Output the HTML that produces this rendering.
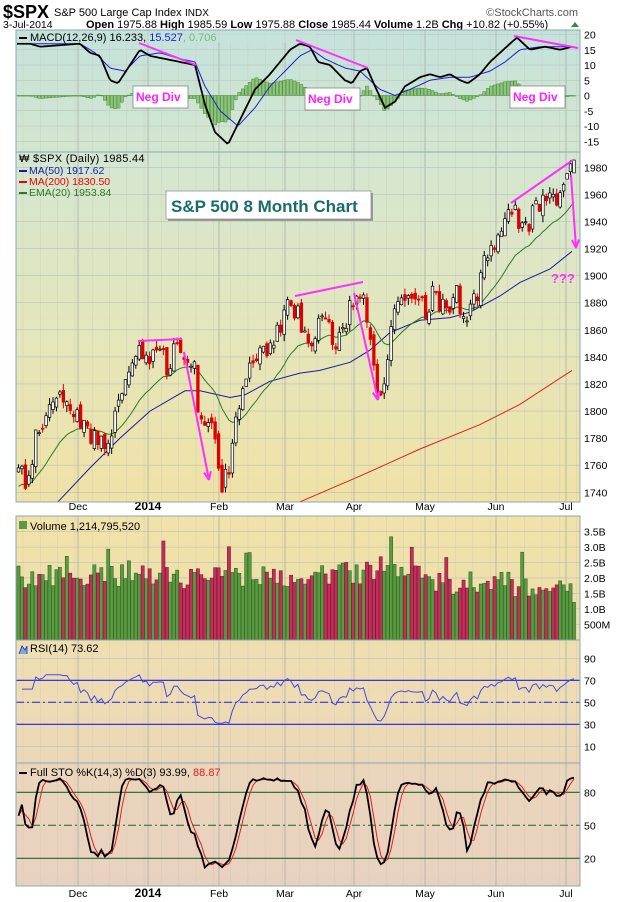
<!DOCTYPE html>
<html><head><meta charset="utf-8"><style>
html,body{margin:0;padding:0;background:#fff;width:620px;height:902px;overflow:hidden}
svg{display:block}
text{font-family:"Liberation Sans",sans-serif}
</style></head><body>
<svg id="s" width="620" height="902" xmlns="http://www.w3.org/2000/svg">
<defs>
<linearGradient id="gM" x1="0" y1="0" x2="0" y2="1"><stop offset="0" stop-color="#c4e2dc"/><stop offset="1" stop-color="#d4e6cf"/></linearGradient>
<linearGradient id="gP" x1="0" y1="0" x2="0" y2="1"><stop offset="0" stop-color="#d3e7d2"/><stop offset="0.5" stop-color="#e4e6bc"/><stop offset="1" stop-color="#f0e2a6"/></linearGradient>
<linearGradient id="gV" x1="0" y1="0" x2="0" y2="1"><stop offset="0" stop-color="#f0e2a8"/><stop offset="1" stop-color="#eedfac"/></linearGradient>
<linearGradient id="gR" x1="0" y1="0" x2="0" y2="1"><stop offset="0" stop-color="#eedfb0"/><stop offset="1" stop-color="#ecd8b8"/></linearGradient>
<linearGradient id="gS" x1="0" y1="0" x2="0" y2="1"><stop offset="0" stop-color="#ebd6bb"/><stop offset="1" stop-color="#e9d1c0"/></linearGradient>
<clipPath id="cM"><rect x="16" y="30" width="564" height="122"/></clipPath>
<clipPath id="cP"><rect x="16" y="152" width="564" height="350"/></clipPath>
<clipPath id="cS"><rect x="16" y="763" width="564" height="123"/></clipPath>
</defs>
<text x="3" y="18" font-size="18" font-weight="bold">$SPX</text>
<text x="54" y="16" font-size="11">S&amp;P 500 Large Cap Index</text>
<text x="185" y="16" font-size="10">INDX</text>
<text x="578" y="16" font-size="11" fill="#555" text-anchor="end">©StockCharts.com</text>
<text x="3" y="28" font-size="10.5">3-Jul-2014</text>
<text x="86" y="28" font-size="11"><tspan font-weight="bold">Open</tspan> 1975.88 <tspan font-weight="bold">High</tspan> 1985.59 <tspan font-weight="bold">Low</tspan> 1975.88 <tspan font-weight="bold">Close</tspan> 1985.44 <tspan font-weight="bold">Volume</tspan> 1.2B <tspan font-weight="bold">Chg</tspan> +10.82 (+0.55%)</text>
<polygon points="571,27 575,22 579,27" fill="#3a8a3a"/>
<g id="g"></g>
</svg>
<script>
var NS="http://www.w3.org/2000/svg",G=document.getElementById("g");
function el(t,a,p){var e=document.createElementNS(NS,t);for(var k in a)e.setAttribute(k,a[k]);(p||G).appendChild(e);return e;}
function tx(x,y,s,a){var e=el("text",Object.assign({x:x,y:y,"font-size":11},a||{}));e.textContent=s;return e;}
var s=12345;function rnd(){s^=s<<13;s^=s>>>17;s^=s<<5;return ((s>>>0)%100000)/100000;}
function interp(k,x){if(x<=k[0][0])return k[0][1];for(var i=1;i<k.length;i++){if(x<=k[i][0]){var a=k[i-1],b=k[i];return a[1]+(b[1]-a[1])*(x-a[0])/(b[0]-a[0]);}}return k[k.length-1][1];}
var L=16,R=580;
el("rect",{x:L,y:30,width:R-L,height:122,fill:"url(#gM)"});
el("rect",{x:L,y:152,width:R-L,height:350,fill:"url(#gP)"});
el("rect",{x:L,y:516,width:R-L,height:124,fill:"url(#gV)"});
el("rect",{x:L,y:640,width:R-L,height:123,fill:"url(#gR)"});
el("rect",{x:L,y:763,width:R-L,height:123,fill:"url(#gS)"});
var N=162,dx=3.45;function X(i){return 18.5+i*dx;}
var months=[[78,"Dec"],[148,"2014"],[219,"Feb"],[285,"Mar"],[354,"Apr"],[425,"May"],[496,"Jun"],[566,"Jul"]];
var panels=[[30,152],[152,502],[516,640],[640,763],[763,886]];
panels.forEach(function(p){
 for(var x=23;x<R;x+=17.3)el("line",{x1:x,y1:p[0],x2:x,y2:p[1],stroke:"#c8c8b8","stroke-width":0.6,opacity:0.6});
 months.forEach(function(m){el("line",{x1:m[0],y1:p[0],x2:m[0],y2:p[1],stroke:"#a8b0a8","stroke-width":0.8});});
});
function hgrid(y,lab){el("line",{x1:L,y1:y,x2:R,y2:y,stroke:"#b8c0b8","stroke-width":0.6});tx(584,y+4,lab,{"font-size":10.5});}
for(var v=20;v>=-15;v-=5)hgrid(95.5-v*3.05,""+v);
for(var p=1740;p<=1980;p+=20)hgrid(492.3-(p-1740)*1.354,""+p);
[["3.5B",3.5],["3.0B",3],["2.5B",2.5],["2.0B",2],["1.5B",1.5],["1.0B",1],["500M",0.5]].forEach(function(a){hgrid(639.7-a[1]*30.86,a[0]);});
[90,70,50,30,10].forEach(function(v){hgrid(746.3-(v-10)*1.1,""+v);});
[80,50,20].forEach(function(v){tx(584,858.3-(v-20)*1.1+4,""+v,{"font-size":10.5});});
months.forEach(function(m){tx(m[0],510,m[1],{"text-anchor":"middle","font-size":m[1]=="2014"?12:10.5,"font-weight":m[1]=="2014"?"bold":"normal"});tx(m[0],897,m[1],{"text-anchor":"middle","font-size":m[1]=="2014"?12:10.5,"font-weight":m[1]=="2014"?"bold":"normal"});});
var K=[[17,1765],[25,1748],[40,1790],[50,1805],[60,1810],[70,1800],[85,1790],[100,1775],[110,1782],[120,1810],[130,1840],[140,1846],[150,1835],[160,1842],[170,1830],[175,1848],[185,1845],[195,1828],[200,1792],[210,1795],[215,1785],[222,1745],[228,1752],[233,1780],[238,1800],[245,1822],[255,1840],[265,1845],[280,1858],[290,1880],[300,1868],[310,1850],[320,1865],[330,1858],[340,1850],[348,1870],[355,1886],[362,1888],[368,1860],[375,1822],[382,1817],[388,1845],[395,1870],[405,1880],[415,1880],[425,1875],[432,1885],[440,1880],[450,1875],[455,1895],[462,1872],[470,1875],[478,1885],[485,1910],[492,1920],[500,1925],[508,1945],[515,1952],[520,1935],[527,1932],[535,1950],[545,1960],[550,1955],[555,1952],[560,1960],[566,1975],[572,1985]];
var C=[],O=[],H=[],Lo=[];
for(var i=0;i<N;i++){var c=interp(K,X(i))+(rnd()-0.5)*16;C.push(c);var o=i?C[i-1]+(rnd()-0.5)*8:c-3;O.push(o);H.push(Math.max(o,c)+rnd()*5);Lo.push(Math.min(o,c)-rnd()*5);}
C[N-1]=1985.4;O[N-1]=1975.9;H[N-1]=1985.6;Lo[N-1]=1975.9;
function PY(p){return 492.3-(p-1740)*1.354;}
var gp=el("g",{"clip-path":"url(#cP)"});
function poly(pts,st,w,par){el("polyline",{points:pts.map(function(p){return p[0].toFixed(1)+","+p[1].toFixed(1)}).join(" "),fill:"none",stroke:st,"stroke-width":w},par);}
poly([[300,PY(1733)],[360,PY(1752)],[420,PY(1772)],[480,PY(1790)],[520,PY(1805)],[572,PY(1830)]],"#e02020",1,gp);
poly([[58,PY(1733)],[90,PY(1758)],[120,PY(1780)],[150,PY(1800)],[185,PY(1815)],[200,PY(1815)],[230,PY(1810)],[245,PY(1812)],[270,PY(1822)],[300,PY(1828)],[320,PY(1830)],[350,PY(1836)],[370,PY(1845)],[390,PY(1858)],[420,PY(1867)],[450,PY(1869)],[470,PY(1873)],[500,PY(1885)],[520,PY(1895)],[550,PY(1905)],[572,PY(1918)]],"#1a1aa0",1,gp);
var e=C[0]-15,ep=[];for(i=0;i<N;i++){e=e+(C[i]-e)*2/21;ep.push([X(i),PY(e)]);}
poly(ep,"#2a7a2a",1,gp);
for(i=0;i<N;i++){var x=X(i),up=C[i]>=O[i];
 el("line",{x1:x,y1:PY(H[i]),x2:x,y2:PY(Lo[i]),stroke:up?"#000":"#d00","stroke-width":1},gp);
 var t=PY(Math.max(O[i],C[i])),b=PY(Math.min(O[i],C[i]));
 el("rect",{x:x-1.3,y:t,width:2.6,height:Math.max(1,b-t),fill:up?"#fff":"#e00000",stroke:up?"#000":"#d00","stroke-width":0.7},gp);}
tx(19,162,"₩ $SPX (Daily) 1985.44",{"font-size":11,"letter-spacing":"0.3"});
[["MA(50) 1917.62","#1a1aa0"],["MA(200) 1830.50","#e00"],["EMA(20) 1953.84","#2a7a2a"]].forEach(function(a,j){var y=174+j*11;el("rect",{x:19,y:y-4,width:8,height:2,fill:a[1]});tx(29,y,a[0],{fill:a[1],"font-size":10.5});});
el("rect",{x:168,y:193,width:205,height:28,fill:"#999"});
el("rect",{x:166,y:191,width:205,height:28,fill:"#fff",stroke:"#888","stroke-width":0.7});
tx(171,212,"S&P 500 8 Month Chart",{"font-size":17,"font-weight":"bold",fill:"#1a6b6b"});
function mag(x1,y1,x2,y2,arrow){el("line",{x1:x1,y1:y1,x2:x2,y2:y2,stroke:"#ff30ff","stroke-width":2});if(arrow){var a=Math.atan2(y2-y1,x2-x1);[2.6,-2.6].forEach(function(d){el("line",{x1:x2,y1:y2,x2:x2-9*Math.cos(a+d/6.5),y2:y2-9*Math.sin(a+d/6.5),stroke:"#ff30ff","stroke-width":2});});}}
mag(138,341,182,339);mag(184,352,209,480,1);
mag(295,296,363,282);mag(354,293,378,400,1);
mag(511,203,573,160);mag(571,175,576,248,1);
tx(551,283,"???",{"font-size":13,"font-weight":"bold",fill:"#ff30ff"});
var MB=[[17,17],[30,17],[40,16],[80,17],[90,14],[100,13],[110,5],[118,4],[130,10],[140,15],[150,13],[165,12],[180,11],[195,10],[205,-3],[215,-12],[228,-16],[240,-8],[255,2],[270,7],[280,11],[290,15],[300,17],[310,16],[318,11],[330,10],[345,5],[352,4],[360,8],[367,9],[375,3],[385,-4],[395,-2],[405,3],[420,6],[430,7],[440,6],[450,7],[460,5],[468,4],[480,7],[490,11],[500,14],[510,17],[517,19],[530,15],[545,16],[560,15],[572,16]];
var MS=[[17,17],[80,17],[95,14],[110,9],[125,8],[140,13],[160,14],[180,12],[195,11],[205,3],[220,-5],[238,-10],[255,-4],[270,3],[285,8],[300,13],[312,15],[325,12],[345,9],[360,8],[380,2],[395,0],[410,2],[430,5],[450,6],[470,6],[490,8],[505,11],[520,15],[540,16],[572,16]];
function MY(v){return 95.5-v*3.05;}
var gm=el("g",{"clip-path":"url(#cM)"});
for(i=0;i<N;i++){var x=X(i),h=interp(MB,x)-interp(MS,x);var y0=MY(0),y1=MY(h);el("rect",{x:x-1.5,y:Math.min(y0,y1),width:3,height:Math.max(0.6,Math.abs(y1-y0)),fill:"#8cc47a",stroke:"#4a8a3a","stroke-width":0.5},gm);}
var pb=[],ps=[];for(x=17;x<=572;x+=2){pb.push([x,MY(interp(MB,x))]);ps.push([x,MY(interp(MS,x))]);}
poly(ps,"#2020d0",1,gm);poly(pb,"#000",1.8,gm);
el("rect",{x:16,y:31,width:300,height:12,fill:"#c4e2dc",opacity:0.7});
el("rect",{x:19,y:37,width:8,height:2,fill:"#000"});
var t1=tx(30,41,"MACD(12,26,9) 16.233, ",{"font-size":11});
var t2=el("tspan",{fill:"#2020d0"},t1);t2.textContent="15.527";var t3=el("tspan",{fill:"#7ab87a"},t1);t3.textContent=", 0.706";
mag(139,43,196,65);mag(296,40,368,68);mag(514,36,578,48);
[[133,86],[305,88],[510,86]].forEach(function(b){el("rect",{x:b[0],y:b[1],width:55,height:22,fill:"#fff",stroke:"#777","stroke-width":0.7});tx(b[0]+3,b[1]+15,"Neg Div",{"font-size":12,"font-weight":"bold",fill:"#ff20ff"});});
for(i=0;i<N;i++){var x=X(i);var base=x<300?2.0:(x<420?2.1:1.75);var v=base-0.35+rnd()*0.8;if(rnd()<0.08)v+=0.9;if(i==N-1)v=1.21;var dn=i&&C[i]<C[i-1];var y=639.7-v*30.86;
 el("rect",{x:x-1.6,y:y,width:3.2,height:639.7-y,fill:dn?"#c03058":"#5a9a40",stroke:dn?"#701030":"#2a5a20","stroke-width":0.5});}
el("rect",{x:19,y:521,width:8,height:8,fill:"#5a9a40"});
tx(30,530,"Volume 1,214,795,520",{"font-size":11});
function RY(v){return 746.3-(v-10)*1.1;}
el("line",{x1:L,y1:RY(70),x2:R,y2:RY(70),stroke:"#2020e0","stroke-width":1.2});
el("line",{x1:L,y1:RY(30),x2:R,y2:RY(30),stroke:"#2020e0","stroke-width":1.2});
el("line",{x1:L,y1:RY(50),x2:R,y2:RY(50),stroke:"#2020e0","stroke-width":1,"stroke-dasharray":"8,3,2,3"});
var ag=0,al=0,rp=[];for(i=1;i<N;i++){var d=C[i]-C[i-1];var g=Math.max(d,0),l=Math.max(-d,0);if(i<=14){ag+=g/14;al+=l/14;}else{ag=(ag*13+g)/14;al=(al*13+l)/14;}var r=al==0?100:100-100/(1+ag/al);if(i<5)r=62;rp.push([X(i),RY(Math.min(75,Math.max(31,r)))]);}
poly(rp,"#4848e0",1);
tx(30,652,"RSI(14) 73.62",{"font-size":11});
el("polyline",{points:"19,654 22,646 25,650 27,646 27,654",fill:"#7ab0c8",stroke:"#2020e0","stroke-width":0.8});
function SY(v){return 858.3-(v-20)*1.1;}
el("line",{x1:L,y1:SY(80),x2:R,y2:SY(80),stroke:"#1a6a2a","stroke-width":1.2});
el("line",{x1:L,y1:SY(20),x2:R,y2:SY(20),stroke:"#1a6a2a","stroke-width":1.2});
el("line",{x1:L,y1:SY(50),x2:R,y2:SY(50),stroke:"#1a6a2a","stroke-width":1,"stroke-dasharray":"8,3,2,3"});
var raw=[];for(i=0;i<N;i++){var hh=-1e9,ll=1e9;for(var j=Math.max(0,i-13);j<=i;j++){hh=Math.max(hh,H[j]);ll=Math.min(ll,Lo[j]);}raw.push(hh>ll?100*(C[i]-ll)/(hh-ll):50);}
var k=[],dd=[];for(i=0;i<N;i++){var a=0,n=0;for(j=Math.max(0,i-2);j<=i;j++){a+=raw[j];n++;}k.push(a/n);}
for(i=0;i<N;i++){var a=0,n=0;for(j=Math.max(0,i-2);j<=i;j++){a+=k[j];n++;}dd.push(a/n);}
function sc(v){return 10+v*0.85;}
var gs=el("g",{"clip-path":"url(#cS)"});
poly(dd.map(function(v,i){return [X(i),SY(sc(v))]}),"#e02020",1,gs);
poly(k.map(function(v,i){return [X(i),SY(sc(v))]}),"#000",1.8,gs);
el("rect",{x:19,y:772,width:8,height:2,fill:"#000"});
var t4=tx(30,776,"Full STO %K(14,3) %D(3) 93.99, ",{"font-size":11});var t5=el("tspan",{fill:"#e02020"},t4);t5.textContent="88.87";
panels.forEach(function(p){el("rect",{x:L,y:p[0],width:R-L,height:p[1]-p[0],fill:"none",stroke:"#8aa8b0","stroke-width":1});});
</script>
</body></html>
